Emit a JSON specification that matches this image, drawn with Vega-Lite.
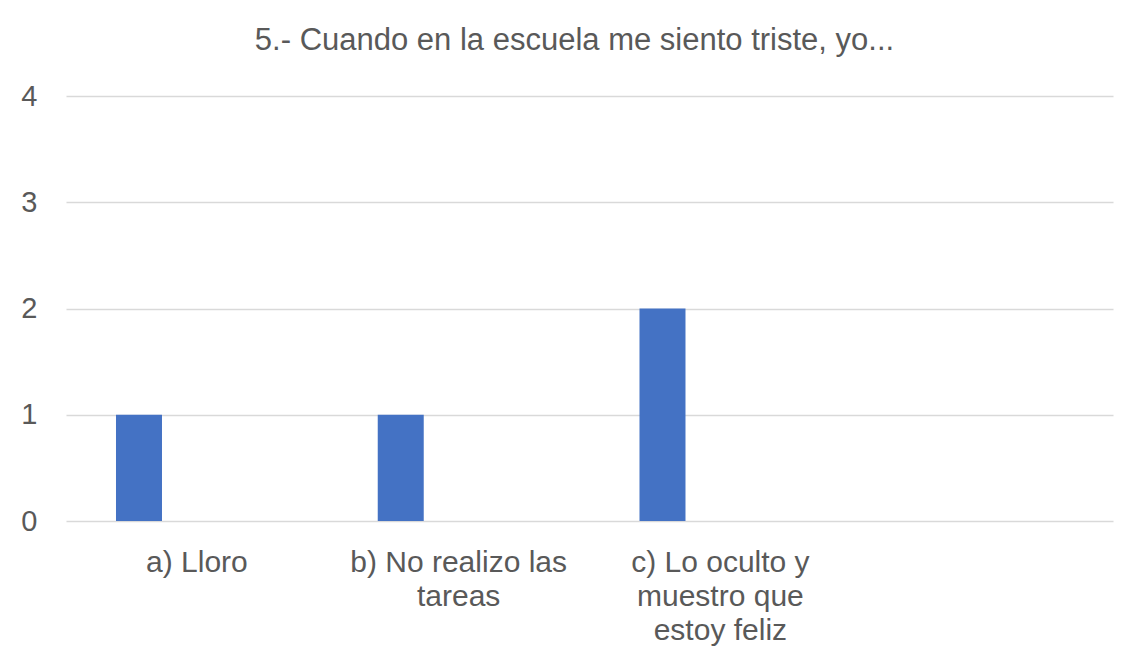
{
  "$schema": "https://vega.github.io/schema/vega-lite/v6.json",
  "autosize": "none",
  "width": 1047,
  "height": 425,
  "padding": {"left": 66, "top": 96, "right": 31, "bottom": 150},
  "background": "white",
  "title": {
    "text": "5.- Cuando en la escuela me siento triste, yo...",
    "fontSize": 31,
    "font": "Liberation Sans",
    "fontWeight": "normal",
    "color": "#595959",
    "anchor": "middle",
    "frame": "group",
    "baseline": "bottom",
    "offset": -6,
    "dx": -15
  },
  "data": {
    "values": [
      {"categoria": "a) Lloro", "serie": "Serie1", "valor": 1},
      {"categoria": "b) No realizo las|tareas", "serie": "Serie1", "valor": 1},
      {"categoria": "c) Lo oculto y|muestro que|estoy feliz", "serie": "Serie1", "valor": 2}
    ]
  },
  "mark": {"type": "bar", "color": "#4472C4"},
  "encoding": {
    "x": {
      "field": "categoria",
      "type": "nominal",
      "sort": null,
      "scale": {
        "domain": ["a) Lloro", "b) No realizo las|tareas", "c) Lo oculto y|muestro que|estoy feliz", " "],
        "paddingInner": 0,
        "paddingOuter": 0
      },
      "axis": {
        "title": null,
        "labelAngle": 0,
        "labelExpr": "split(datum.value, '|')",
        "labelFont": "Liberation Sans",
        "labelFontSize": 30,
        "labelColor": "#595959",
        "labelBaseline": "top",
        "labelPadding": 26,
        "labelLineHeight": 34,
        "labelLimit": 400,
        "ticks": false,
        "domain": false,
        "grid": false
      }
    },
    "xOffset": {
      "field": "serie",
      "type": "nominal",
      "scale": {
        "domain": ["Serie1", "Serie2", "Serie3", "Serie4"],
        "paddingInner": 0,
        "paddingOuter": 0.845,
        "align": 0.643
      }
    },
    "y": {
      "field": "valor",
      "type": "quantitative",
      "scale": {"domain": [0, 4], "nice": false},
      "axis": {
        "title": null,
        "values": [0, 1, 2, 3, 4],
        "labelFont": "Liberation Sans",
        "labelFontSize": 29,
        "labelColor": "#595959",
        "labelPadding": 29,
        "ticks": false,
        "domain": false,
        "grid": true,
        "gridColor": "#d9d9d9",
        "gridWidth": 1.3
      }
    },
    "color": {"value": "#4472C4"}
  },
  "config": {
    "view": {"stroke": null},
    "legend": {"disable": true}
  }
}
